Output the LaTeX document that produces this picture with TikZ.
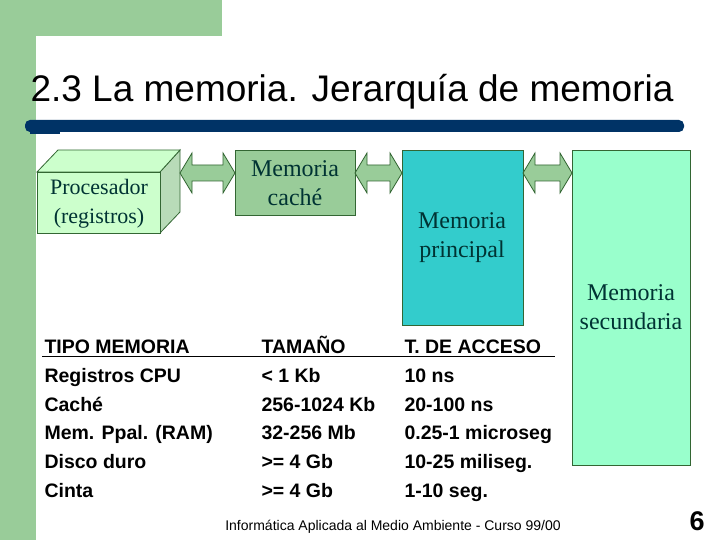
\documentclass[tikz,border=0pt]{standalone}
\usepackage{fontspec}
\setmainfont{Liberation Serif}
\setsansfont{Liberation Sans}
\definecolor{bandgreen}{HTML}{99CC99}
\definecolor{boxline}{HTML}{336633}
\definecolor{cubegreen}{HTML}{CCFFCC}
\definecolor{cyanbox}{HTML}{33CCCC}
\definecolor{mintbox}{HTML}{99FFCC}
\definecolor{navy}{HTML}{003366}
\definecolor{boxtext}{HTML}{003333}
\begin{document}
\begin{tikzpicture}[
        x=1pt, y=-1pt,
        membox/.style={draw=boxline, line width=0.8pt},
        boxlabel/.style={font=\fontsize{24}{29}\selectfont, text=boxtext, align=center},
        cell/.style={anchor=base west, font=\sffamily\bfseries\fontsize{19.5}{22}\selectfont}
    ]

    \useasboundingbox (0,0) rectangle (720,540);

    % Fondo y banda
    \fill[bandgreen] (0,0) rectangle (36,540);
    \fill[bandgreen] (0,0) rectangle (222,36);
    \fill[white] (36,36) rectangle (720,540);

    % Titulo
    \node[anchor=west, font=\sffamily\fontsize{37}{40}\selectfont] (title) at (27,92) {2.3 La memoria. Jerarquía de memoria};
    \fill[navy, rounded corners=5pt] (25,120) rectangle (684,132);
    \fill[navy] (30,131) rectangle (60,134);

    % Doble flecha
    \def\dblarrow#1#2{\filldraw[fill=bandgreen, draw=boxline, line width=0.8pt]
        (#1,173) -- ++(12,-20) -- ++(0,12) -- (#2-12,165) -- ++(0,-12) -- (#2,173)
        -- ++(-12,20) -- ++(0,-12) -- (#1+12,181) -- ++(0,12) -- cycle;}

    % Procesador (cubo)
    \filldraw[membox, fill=bandgreen!70] (160,172) -- (180,150) -- (180,212) -- (160,233) -- cycle;
    \filldraw[membox, fill=cubegreen] (37,172) -- (58,150) -- (180,150) -- (160,172) -- cycle;
    \filldraw[membox, fill=cubegreen] (37,172) rectangle (160,233);
    \node[boxlabel, font=\fontsize{22}{29}\selectfont] (cpu) at (99,204) {Procesador\\(registros)};

    % Memorias
    \filldraw[membox, fill=bandgreen] (235,150) rectangle (355,215);
    \node[boxlabel] (cache) at (295,183) {Memoria\\caché};
    \filldraw[membox, fill=cyanbox] (402,150) rectangle (523,325);
    \node[boxlabel] (ram) at (462,238) {Memoria\\principal};
    \filldraw[membox, fill=mintbox] (572,150) rectangle (690,465);
    \node[boxlabel] (disk) at (631,307) {Memoria\\secundaria};

    \dblarrow{180}{235}
    \dblarrow{355}{402}
    \dblarrow{523}{572}

    % Tabla
    \draw[line width=0.8pt] (42,356) -- (555,356);
    \foreach \y/\tipo/\tam/\acc in {
        346/TIPO MEMORIA/TAMAÑO/T. DE ACCESO,
        375/Registros CPU/< 1 Kb/10 ns,
        404/Caché/256-1024 Kb/20-100 ns,
        432/Mem. Ppal. (RAM)/32-256 Mb/0.25-1 microseg,
        461/Disco duro/>= 4 Gb/10-25 miliseg.,
        490/Cinta/>= 4 Gb/1-10 seg.} {
        \node[cell] at (41,\y+7) {\tipo};
        \node[cell] at (258,\y+7) {\tam};
        \node[cell] at (401,\y+7) {\acc};
    }

    % Pie
    \node[font=\sffamily\fontsize{14}{16}\selectfont] (foot) at (393,527) {Informática Aplicada al Medio Ambiente - Curso 99/00};
    \node[font=\sffamily\bfseries\fontsize{27}{30}\selectfont] (page) at (697,521) {6};

\end{tikzpicture}
\end{document}
